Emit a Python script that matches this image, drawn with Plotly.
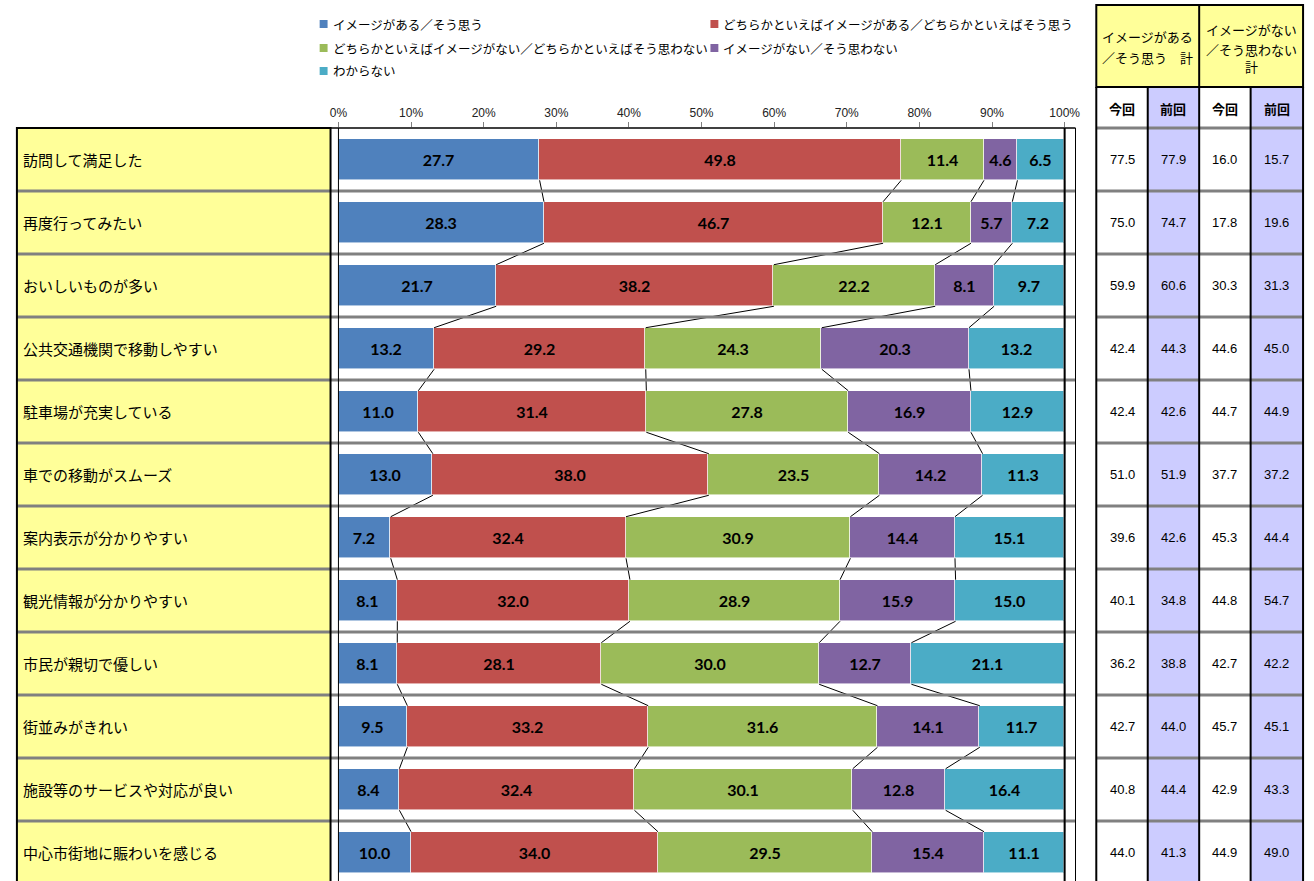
import plotly.graph_objects as go

W, H = 1314, 881

categories = [
    "訪問して満足した", "再度行ってみたい", "おいしいものが多い", "公共交通機関で移動しやすい",
    "駐車場が充実している", "車での移動がスムーズ", "案内表示が分かりやすい", "観光情報が分かりやすい",
    "市民が親切で優しい", "街並みがきれい", "施設等のサービスや対応が良い", "中心市街地に賑わいを感じる",
]
series_names = [
    "イメージがある／そう思う",
    "どちらかといえばイメージがある／どちらかといえばそう思う",
    "どちらかといえばイメージがない／どちらかといえばそう思わない",
    "イメージがない／そう思わない",
    "わからない",
]
s_agree = [27.7, 28.3, 21.7, 13.2, 11.0, 13.0, 7.2, 8.1, 8.1, 9.5, 8.4, 10.0]
s_some_agree = [49.8, 46.7, 38.2, 29.2, 31.4, 38.0, 32.4, 32.0, 28.1, 33.2, 32.4, 34.0]
s_some_disagree = [11.4, 12.1, 22.2, 24.3, 27.8, 23.5, 30.9, 28.9, 30.0, 31.6, 30.1, 29.5]
s_disagree = [4.6, 5.7, 8.1, 20.3, 16.9, 14.2, 14.4, 15.9, 12.7, 14.1, 12.8, 15.4]
s_unknown = [6.5, 7.2, 9.7, 13.2, 12.9, 11.3, 15.1, 15.0, 21.1, 11.7, 16.4, 11.1]

pos_now = [77.5, 75.0, 59.9, 42.4, 42.4, 51.0, 39.6, 40.1, 36.2, 42.7, 40.8, 44.0]
pos_prev = [77.9, 74.7, 60.6, 44.3, 42.6, 51.9, 42.6, 34.8, 38.8, 44.0, 44.4, 41.3]
neg_now = [16.0, 17.8, 30.3, 44.6, 44.7, 37.7, 45.3, 44.8, 42.7, 45.7, 42.9, 44.9]
neg_prev = [15.7, 19.6, 31.3, 45.0, 44.9, 37.2, 44.4, 54.7, 42.2, 45.1, 43.3, 49.0]

tick_vals = [0, 10, 20, 30, 40, 50, 60, 70, 80, 90, 100]
tick_text = ["0%", "10%", "20%", "30%", "40%", "50%", "60%", "70%", "80%", "90%", "100%"]

colors = ["#4F81BD", "#C0504D", "#9BBB59", "#8064A2", "#4BACC6"]
series = [s_agree, s_some_agree, s_some_disagree, s_disagree, s_unknown]

JP = "Noto Sans CJK JP"
NUM = "Liberation Sans"


def px(x):
    return x / W


def py(y):
    return 1 - y / H


ROW_TOP = 128
ROW_H = 63
BAR_W = 0.66
n = len(categories)
ys = list(range(n))

fig = go.Figure()

for name, vals, col in zip(series_names, series, colors):
    fig.add_trace(go.Bar(
        x=vals, y=ys, orientation="h", name=name, width=BAR_W,
        marker=dict(color=col, line=dict(color="rgba(255,255,255,0.55)", width=1)),
        text=[f"{v:.1f}" for v in vals], texttemplate="%{text}",
        textposition="inside", insidetextanchor="middle", textangle=0,
        textfont=dict(family="Lato", size=16, color="black", weight="bold"),
        showlegend=False, hoverinfo="x+y",
    ))

# series lines connecting segment boundaries (normalised like a 100% stacked bar)
totals = [sum(s[i] for s in series) for i in range(n)]
cum = []
for i in range(n):
    c, row = 0.0, []
    for s in series:
        c += s[i] / totals[i] * 100
        row.append(c)
    cum.append(row)
lx, ly = [], []
for k in range(len(series)):
    for i in range(n - 1):
        lx += [cum[i][k], cum[i + 1][k], None]
        ly += [i + BAR_W / 2, i + 1 - BAR_W / 2, None]
fig.add_trace(go.Scatter(x=lx, y=ly, mode="lines", line=dict(color="black", width=1),
                         showlegend=False, hoverinfo="skip"))

x_right = 100 * (1078 - 333) / (1067 - 333)
y_bottom = -0.5 + (H - ROW_TOP) / ROW_H

shapes = []
# label column fill
shapes.append(dict(type="rect", xref="paper", yref="paper", x0=px(8), x1=px(325), y0=py(ROW_TOP), y1=py(H + 20),
                   fillcolor="#FFFF99", line=dict(width=0), layer="below"))
# table header
shapes.append(dict(type="rect", xref="paper", yref="paper", x0=px(1099), x1=px(1308), y0=py(5), y1=py(87),
                   fillcolor="#FFFF99", line=dict(width=0), layer="below"))
for xa, xb in [(1151, 1203), (1255, 1308)]:
    shapes.append(dict(type="rect", xref="paper", yref="paper", x0=px(xa), x1=px(xb), y0=py(87), y1=py(H + 20),
                       fillcolor="#CCCCFF", line=dict(width=0), layer="below"))
# gray row separators
for k in range(1, n):
    yy = py(ROW_TOP + ROW_H * k)
    shapes.append(dict(type="line", xref="paper", yref="paper", x0=px(8), x1=px(1078), y0=yy, y1=yy,
                       line=dict(color="#808080", width=3)))
    shapes.append(dict(type="line", xref="paper", yref="paper", x0=px(1099), x1=px(1308), y0=yy, y1=yy,
                       line=dict(color="#808080", width=3)))
shapes.append(dict(type="line", xref="paper", yref="paper", x0=px(1099), x1=px(1308), y0=py(ROW_TOP), y1=py(ROW_TOP),
                   line=dict(color="#808080", width=3)))
# black borders
shapes.append(dict(type="rect", xref="paper", yref="paper", x0=px(8), x1=px(325), y0=py(ROW_TOP), y1=py(H + 20),
                   line=dict(color="black", width=2)))
shapes.append(dict(type="line", xref="paper", yref="paper", x0=px(8), x1=px(1078), y0=py(ROW_TOP), y1=py(ROW_TOP),
                   line=dict(color="black", width=1.5)))
shapes.append(dict(type="line", xref="paper", yref="paper", x0=px(333), x1=px(333), y0=py(ROW_TOP), y1=py(H + 20),
                   line=dict(color="black", width=1)))
shapes.append(dict(type="line", xref="x", yref="paper", x0=100, x1=100, y0=py(ROW_TOP), y1=py(H + 20),
                   line=dict(color="black", width=2)))
shapes.append(dict(type="line", xref="paper", yref="paper", x0=px(1078), x1=px(1078), y0=py(ROW_TOP), y1=py(H + 20),
                   line=dict(color="black", width=1)))
shapes.append(dict(type="rect", xref="paper", yref="paper", x0=px(1099), x1=px(1308), y0=py(5), y1=py(87),
                   line=dict(color="black", width=2)))
shapes.append(dict(type="line", xref="paper", yref="paper", x0=px(1203), x1=px(1203), y0=py(5), y1=py(87),
                   line=dict(color="black", width=2)))
for xv in [1099, 1151, 1203, 1255, 1308]:
    shapes.append(dict(type="line", xref="paper", yref="paper", x0=px(xv), x1=px(xv), y0=py(87), y1=py(H + 20),
                       line=dict(color="black", width=2)))
# legend squares
leg_pos = [(314, 24), (709, 24), (314, 48), (709, 48), (314, 71)]
for (lxp, lyp), col in zip(leg_pos, colors):
    shapes.append(dict(type="rect", xref="paper", yref="paper", x0=px(lxp), x1=px(lxp + 8),
                       y0=py(lyp - 4), y1=py(lyp + 4), fillcolor=col, line=dict(width=0)))

ann = []
for (lxp, lyp), name in zip(leg_pos, series_names):
    ann.append(dict(x=px(lxp + 11), y=py(lyp), xref="paper", yref="paper", text=name, showarrow=False,
                    xanchor="left", yanchor="middle", font=dict(family=JP, size=12.5, color="black")))
for i, cat in enumerate(categories):
    ann.append(dict(x=px(12), y=i, xref="paper", yref="y", text=cat, showarrow=False,
                    xanchor="left", yanchor="middle", font=dict(family=JP, size=15, color="black")))
col_centers = [1125, 1177, 1229, 1281.5]
for vals, cx in zip([pos_now, pos_prev, neg_now, neg_prev], col_centers):
    for i, v in enumerate(vals):
        ann.append(dict(x=px(cx), y=i, xref="paper", yref="y", text=f"{v:.1f}", showarrow=False,
                        xanchor="center", yanchor="middle", font=dict(family=NUM, size=13, color="black")))
for txt, cx in zip(["今回", "前回", "今回", "前回"], col_centers):
    ann.append(dict(x=px(cx), y=py(108), xref="paper", yref="paper", text=txt, showarrow=False,
                    xanchor="center", yanchor="middle", font=dict(family=JP, size=13, color="black", weight="bold")))
for txt, cx, cy in [("イメージがある", 1151, 36), ("／そう思う　計", 1151, 57),
                    ("イメージがない", 1255.5, 30), ("／そう思わない", 1255.5, 49), ("計", 1255.5, 67)]:
    ann.append(dict(x=px(cx), y=py(cy), xref="paper", yref="paper", text=txt, showarrow=False,
                    xanchor="center", yanchor="middle", font=dict(family=JP, size=13, color="black")))

fig.update_layout(
    width=W, height=H, margin=dict(l=0, r=0, t=0, b=0),
    paper_bgcolor="white", plot_bgcolor="white",
    barmode="stack", barnorm="percent", bargap=0,
    uniformtext=dict(minsize=15, mode="show"),
    showlegend=False,
    xaxis=dict(domain=[px(333), px(1078)], range=[0, x_right], side="top", tickvals=tick_vals, ticktext=tick_text,
               ticks="outside", ticklen=5, tickcolor="#808080", showgrid=False, zeroline=False, showline=False,
               tickfont=dict(family=NUM, size=12, color="#222222"), fixedrange=True),
    yaxis=dict(domain=[0, py(ROW_TOP)], range=[y_bottom, -0.5], showticklabels=False, showgrid=False,
               zeroline=False, showline=False, ticks="", fixedrange=True),
    shapes=shapes, annotations=ann,
)

fig.write_html("out.html", config={"displayModeBar": False},
               post_script="document.body.style.margin='0';document.body.style.overflow='hidden';")
